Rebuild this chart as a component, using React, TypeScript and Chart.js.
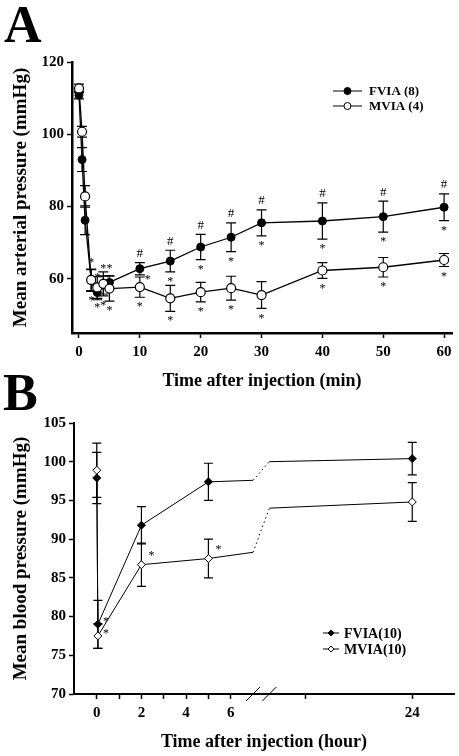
import React, { useEffect, useRef } from 'react';
import { Chart, registerables } from 'chart.js';
Chart.register(...registerables);

const FONT = "'Liberation Serif', 'Times New Roman', serif";

// ---------- Panel A (minutes) ----------
const aTimes = [0, 0.5, 1, 2, 3, 4, 5, 10, 15, 20, 25, 30, 40, 50, 60];
const aFviaMean = [110.8, 93.0, 76.2, 59.5, 56.2, 58.3, 59.0, 62.8, 64.9, 68.8, 71.5, 75.5, 76.0, 77.2, 79.8];
const aFviaErr = [1.0, 3.3, 4.0, 3.0, 2.0, 2.5, 1.8, 1.7, 3.0, 3.5, 4.0, 3.6, 5.0, 4.3, 3.7];
const aMviaMean = [112.7, 100.7, 82.8, 59.7, 57.6, 58.6, 57.3, 57.7, 54.6, 56.3, 57.4, 55.5, 62.3, 63.2, 65.2];
const aMviaErr = [1.2, 1.5, 3.0, 3.0, 3.0, 3.3, 3.5, 2.8, 3.6, 2.7, 3.3, 3.7, 2.2, 2.7, 1.8];
const aXTicks = [0, 10, 20, 30, 40, 50, 60];
const aYTicks = [60, 80, 100, 120];
const aFviaHash = [10, 15, 20, 25, 30, 40, 50, 60];
const aFviaStarAbove = [2, 3, 4, 5];
const aFviaStarBelow = [15, 20, 25, 30, 40, 50, 60];
const aFviaStarLowRight = [10];
const aMviaStarBelow = [2, 3, 4, 5, 10, 15, 20, 25, 30, 40, 50, 60];

// ---------- Panel B (hours, broken axis) ----------
const bHours = [0, 0.05, 2, 5, 7, 16, 24];
const bFviaMean = [97.9, 79.0, 91.8, 97.4, 97.6, 100.0, 100.4];
const bFviaErr = [3.3, 3.1, 2.4, 2.4, null, null, 2.1];
const bMviaMean = [98.9, 77.5, 86.7, 87.5, 88.3, 94.0, 94.8];
const bMviaErr = [3.5, 1.6, 2.8, 2.5, null, null, 2.5];
const bHasMarker = [true, true, true, true, false, false, true];
const bMajorTicks = [0, 2, 4, 6, 24];
const bMinorTicks = [1, 3, 5, 18];
const bYTicks = [70, 75, 80, 85, 90, 95, 100, 105];
const bBreak = [7, 16];
const bFviaStarRight = [0.05];
const bMviaStarRight = [0.05];
const bMviaStarUpRight = [2, 5];

// axis break mapping (hours -> display units)
const POST_RATE = 0.8;
const DISP_24 = 14.13;
const toDisp = (h: number) => (h <= bBreak[0] ? h : DISP_24 - (24 - h) * POST_RATE);

const NOTE_OFFSETS: Record<string, { dx: number; dy: number }> = {
  above: { dx: 0, dy: -9 },
  below: { dx: 0, dy: 8 },
  right: { dx: 8, dy: -4 },
  upright: { dx: 10, dy: -11 },
  lowright: { dx: 8, dy: 9 },
};

const notes = (xs: number[], sym: string, pos: string) => xs.map((x) => ({ x, sym, pos }));

function drawMarker(ctx: CanvasRenderingContext2D, style: string, x: number, y: number, r: number, fill: string, lw: number) {
  ctx.beginPath();
  if (style === 'rectRot') {
    ctx.moveTo(x, y - r);
    ctx.lineTo(x + r, y);
    ctx.lineTo(x, y + r);
    ctx.lineTo(x - r, y);
    ctx.closePath();
  } else {
    ctx.arc(x, y, r, 0, Math.PI * 2);
  }
  ctx.fillStyle = fill;
  ctx.fill();
  ctx.lineWidth = lw;
  ctx.strokeStyle = '#000';
  ctx.stroke();
}

const errorBarPlugin = {
  id: 'errorBars',
  beforeDatasetsDraw(chart: any) {
    const ctx = chart.ctx;
    const ys = chart.scales.y;
    chart.data.datasets.forEach((ds: any, di: number) => {
      if (!ds.errors) return;
      const meta = chart.getDatasetMeta(di);
      ctx.save();
      ctx.strokeStyle = '#000';
      ctx.lineWidth = ds.errorWidth || 1.2;
      meta.data.forEach((pt: any, i: number) => {
        const e = ds.errors[i];
        if (e == null) return;
        const v = ds.data[i].y;
        const yt = ys.getPixelForValue(v + e);
        const yb = ys.getPixelForValue(v - e);
        const c = ds.capHalf;
        ctx.beginPath();
        ctx.moveTo(pt.x, yt);
        ctx.lineTo(pt.x, yb);
        ctx.moveTo(pt.x - c, yt);
        ctx.lineTo(pt.x + c, yt);
        ctx.moveTo(pt.x - c, yb);
        ctx.lineTo(pt.x + c, yb);
        ctx.stroke();
      });
      ctx.restore();
    });
  },
};

const notesPlugin = {
  id: 'sigNotes',
  afterDatasetsDraw(chart: any) {
    const ctx = chart.ctx;
    const ys = chart.scales.y;
    chart.data.datasets.forEach((ds: any, di: number) => {
      if (!ds.notes) return;
      const meta = chart.getDatasetMeta(di);
      ctx.save();
      ctx.fillStyle = '#000';
      ctx.textAlign = 'center';
      ctx.textBaseline = 'middle';
      ds.notes.forEach((n: any) => {
        const i = ds.times.indexOf(n.x);
        if (i < 0) return;
        const pt = meta.data[i];
        const v = ds.data[i].y;
        const e = ds.errors[i] || 0;
        const yt = ys.getPixelForValue(v + e);
        const yb = ys.getPixelForValue(v - e);
        const off = NOTE_OFFSETS[n.pos];
        let y = pt.y + off.dy;
        if (n.pos === 'above') y = yt + off.dy;
        if (n.pos === 'below') y = yb + off.dy;
        ctx.font = n.sym === '#' ? `13px ${FONT}` : `12px ${FONT}`;
        ctx.fillText(n.sym, pt.x + off.dx, y + (n.sym === '*' ? 2 : 0));
      });
      ctx.restore();
    });
  },
};

const legendPlugin = {
  id: 'inLegend',
  afterDraw(chart: any, _args: any, opts: any) {
    const ctx = chart.ctx;
    ctx.save();
    chart.data.datasets.forEach((ds: any, i: number) => {
      const y = opts.y + i * opts.rowH;
      ctx.strokeStyle = '#000';
      ctx.lineWidth = 1;
      ctx.beginPath();
      ctx.moveTo(opts.x, y);
      ctx.lineTo(opts.x + opts.lineLen, y);
      ctx.stroke();
      drawMarker(ctx, ds.pointStyle, opts.x + opts.lineLen / 2, y, ds.legendRadius, ds.legendFill, 1);
      ctx.fillStyle = '#000';
      ctx.font = `bold ${opts.size}px ${FONT}`;
      ctx.textAlign = 'left';
      ctx.textBaseline = 'middle';
      ctx.fillText(ds.label, opts.x + opts.lineLen + opts.gap, y + 1);
    });
    ctx.restore();
  },
};

const panelLabelPlugin = {
  id: 'panelLabel',
  afterDraw(chart: any, _args: any, opts: any) {
    const ctx = chart.ctx;
    ctx.save();
    ctx.fillStyle = '#000';
    ctx.font = `bold 52px ${FONT}`;
    ctx.textAlign = 'left';
    ctx.textBaseline = 'alphabetic';
    ctx.fillText(opts.text, opts.x, opts.y);
    ctx.restore();
  },
};

const axisBreakPlugin = {
  id: 'axisBreak',
  afterDraw(chart: any, _args: any, opts: any) {
    if (!opts || !opts.at) return;
    const ctx = chart.ctx;
    const xs = chart.scales.x;
    const yb = chart.chartArea.bottom;
    ctx.save();
    ctx.strokeStyle = '#000';
    ctx.lineWidth = 1;
    opts.at.forEach((h: number) => {
      const x = xs.getPixelForValue(toDisp(h));
      ctx.beginPath();
      ctx.moveTo(x - 7, yb + 7);
      ctx.lineTo(x + 7, yb - 7);
      ctx.stroke();
    });
    ctx.restore();
  },
};

const tickFont = { family: FONT, size: 15, weight: 'bold' as const };
const titleFont = (size: number) => ({ family: FONT, size, weight: 'bold' as const });
const gridOpts = { display: true, drawOnChartArea: false, drawTicks: true, tickLength: 5, tickWidth: 1.5, tickColor: '#000' };

function buildA(): any {
  return {
    type: 'line',
    data: {
      datasets: [
        {
          label: 'FVIA (8)',
          data: aTimes.map((t, i) => ({ x: t, y: aFviaMean[i] })),
          times: aTimes,
          errors: aFviaErr,
          capHalf: 5,
          order: 1,
          borderColor: '#000',
          borderWidth: 1.3,
          pointStyle: 'circle',
          pointRadius: 4,
          pointBackgroundColor: '#000',
          pointBorderColor: '#000',
          pointBorderWidth: 1,
          legendRadius: 3.5,
          legendFill: '#000',
          notes: [
            ...notes(aFviaHash, '#', 'above'),
            ...notes(aFviaStarAbove, '*', 'above'),
            ...notes(aFviaStarBelow, '*', 'below'),
            ...notes(aFviaStarLowRight, '*', 'lowright'),
          ],
        },
        {
          label: 'MVIA (4)',
          data: aTimes.map((t, i) => ({ x: t, y: aMviaMean[i] })),
          times: aTimes,
          errors: aMviaErr,
          capHalf: 5,
          order: 0,
          borderColor: '#000',
          borderWidth: 1.3,
          pointStyle: 'circle',
          pointRadius: 4.5,
          pointBackgroundColor: '#fff',
          pointBorderColor: '#000',
          pointBorderWidth: 1.2,
          legendRadius: 3.5,
          legendFill: '#fff',
          notes: [...notes(aMviaStarBelow, '*', 'below')],
        },
      ],
    },
    options: {
      responsive: false,
      animation: false,
      events: [],
      layout: { padding: { left: 0, top: 62, right: 7, bottom: 0 } },
      plugins: {
        legend: { display: false },
        tooltip: { enabled: false },
        inLegend: { x: 333, y: 91, lineLen: 29, gap: 7, rowH: 15, size: 13 },
        panelLabel: { text: 'A', x: 4, y: 42 },
      },
      scales: {
        x: {
          type: 'linear',
          min: -1.15,
          max: 61.3,
          afterBuildTicks: (s: any) => { s.ticks = aXTicks.map((v) => ({ value: v })); },
          afterFit: (s: any) => { s.height = 62; },
          ticks: { autoSkip: false, maxRotation: 0, padding: 5, color: '#000', font: tickFont },
          grid: gridOpts,
          border: { display: true, color: '#000', width: 2.5 },
          title: { display: true, text: 'Time after injection (min)', color: '#000', font: titleFont(18), padding: { top: 0, bottom: 3 } },
        },
        y: {
          type: 'linear',
          min: 45,
          max: 120,
          afterBuildTicks: (s: any) => { s.ticks = aYTicks.map((v) => ({ value: v })); },
          afterFit: (s: any) => { s.width = 72; },
          ticks: { autoSkip: false, padding: 3, color: '#000', font: tickFont },
          grid: gridOpts,
          border: { display: true, color: '#000', width: 2.5 },
          title: { display: true, text: 'Mean arterial pressure (mmHg)', color: '#000', font: titleFont(19), padding: { top: 10, bottom: 0 } },
        },
      },
    },
    plugins: [errorBarPlugin, notesPlugin, legendPlugin, panelLabelPlugin],
  };
}

function buildB(): any {
  const allTicks = [...bMajorTicks, ...bMinorTicks].sort((p, q) => p - q);
  return {
    type: 'line',
    data: {
      datasets: [
        {
          label: 'FVIA(10)',
          data: bHours.map((h, i) => ({ x: toDisp(h), y: bFviaMean[i] })),
          times: bHours,
          errors: bFviaErr,
          capHalf: 4.5,
          order: 1,
          borderColor: '#000',
          borderWidth: 1,
          pointStyle: 'rectRot',
          pointRadius: bHasMarker.map((m) => (m ? 4 : 0)),
          pointBackgroundColor: '#000',
          pointBorderColor: '#000',
          pointBorderWidth: 1,
          legendRadius: 3,
          legendFill: '#000',
          segment: { borderDash: (c: any) => (c.p0DataIndex === bHours.indexOf(bBreak[0]) ? [1.5, 3] : undefined) },
          notes: [...notes(bFviaStarRight, '*', 'right')],
        },
        {
          label: 'MVIA(10)',
          data: bHours.map((h, i) => ({ x: toDisp(h), y: bMviaMean[i] })),
          times: bHours,
          errors: bMviaErr,
          capHalf: 4.5,
          order: 0,
          borderColor: '#000',
          borderWidth: 1,
          pointStyle: 'rectRot',
          pointRadius: bHasMarker.map((m) => (m ? 4 : 0)),
          pointBackgroundColor: '#fff',
          pointBorderColor: '#000',
          pointBorderWidth: 1,
          legendRadius: 3,
          legendFill: '#fff',
          segment: { borderDash: (c: any) => (c.p0DataIndex === bHours.indexOf(bBreak[0]) ? [1.5, 3] : undefined) },
          notes: [...notes(bMviaStarRight, '*', 'right'), ...notes(bMviaStarUpRight, '*', 'upright')],
        },
      ],
    },
    options: {
      responsive: false,
      animation: false,
      events: [],
      layout: { padding: { left: 0, top: 55, right: 2, bottom: 0 } },
      plugins: {
        legend: { display: false },
        tooltip: { enabled: false },
        inLegend: { x: 323, y: 265, lineLen: 16, gap: 5, rowH: 16, size: 14 },
        panelLabel: { text: 'B', x: 3, y: 42 },
        axisBreak: { at: bBreak },
      },
      scales: {
        x: {
          type: 'linear',
          min: -1.02,
          max: 16.0,
          afterBuildTicks: (s: any) => { s.ticks = allTicks.map((h) => ({ value: toDisp(h) })); },
          afterFit: (s: any) => { s.height = 62; },
          ticks: {
            autoSkip: false,
            maxRotation: 0,
            padding: 5,
            color: '#000',
            font: tickFont,
            callback: (value: number) => {
              const h = allTicks.find((t) => Math.abs(toDisp(t) - value) < 1e-6);
              return h !== undefined && bMajorTicks.includes(h) ? String(h) : '';
            },
          },
          grid: gridOpts,
          border: { display: true, color: '#000', width: 2 },
          title: { display: true, text: 'Time after injection (hour)', color: '#000', font: titleFont(18), padding: { top: 0, bottom: 3 } },
        },
        y: {
          type: 'linear',
          min: 70,
          max: 105,
          afterBuildTicks: (s: any) => { s.ticks = bYTicks.map((v) => ({ value: v })); },
          afterFit: (s: any) => { s.width = 74; },
          ticks: { autoSkip: false, padding: 3, color: '#000', font: tickFont },
          grid: gridOpts,
          border: { display: true, color: '#000', width: 2 },
          title: { display: true, text: 'Mean blood pressure (mmHg)', color: '#000', font: titleFont(19), padding: { top: 10, bottom: 0 } },
        },
      },
    },
    plugins: [errorBarPlugin, notesPlugin, legendPlugin, panelLabelPlugin, axisBreakPlugin],
  };
}

export default function App() {
  const refA = useRef<HTMLCanvasElement>(null);
  const refB = useRef<HTMLCanvasElement>(null);
  useEffect(() => {
    const a = new Chart(refA.current as HTMLCanvasElement, buildA());
    const b = new Chart(refB.current as HTMLCanvasElement, buildB());
    return () => {
      a.destroy();
      b.destroy();
    };
  }, []);
  return (
    <div style={{ position: 'absolute', left: 0, top: 0, width: 459, height: 756, background: '#fff' }}>
      <canvas ref={refA} width={459} height={395} style={{ position: 'absolute', left: 0, top: 0, width: 459, height: 395 }} />
      <canvas ref={refB} width={459} height={388} style={{ position: 'absolute', left: 0, top: 368, width: 459, height: 388 }} />
    </div>
  );
}
